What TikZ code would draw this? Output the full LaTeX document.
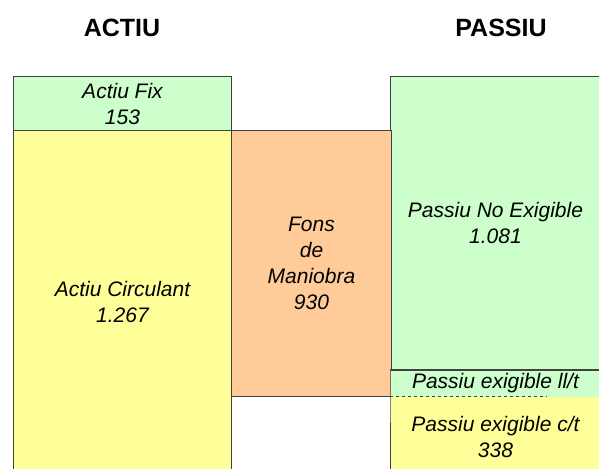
\documentclass[tikz,border=0pt]{standalone}
\usepackage{fontspec}
\setmainfont{Liberation Sans}
\usetikzlibrary{positioning}
\definecolor{fixgreen}{HTML}{CCFFCC}
\definecolor{circyellow}{HTML}{FFFF99}
\definecolor{fonsorange}{HTML}{FFCC99}
\definecolor{edgegray}{HTML}{404040}
\tikzset{
	block/.style={draw=edgegray, line width=1pt, anchor=north west, align=center, inner sep=0pt, font=\fontsize{21}{26}\selectfont\itshape},
	openblock/.style={block, draw=none},
	title/.style={font=\fontsize{25}{30}\selectfont\bfseries}
}
\begin{document}
\begin{tikzpicture}[x=1pt, y=-1pt]
			\useasboundingbox (0,0) rectangle (599,468);
			\clip (0,0) rectangle (599,468);
			\node[title] (actiu) at (122,28) {ACTIU};
			\node[title] (passiu) at (501,28) {PASSIU};
			\node[block, fill=fixgreen, minimum width=218pt, minimum height=54pt] (fix) at (13,76) {Actiu Fix\\153};
			\node[block, fill=circyellow, minimum width=218pt, minimum height=342pt] (circ) at (13,130) {Actiu Circulant\\1.267};
			\node[block, fill=fixgreen, minimum width=210pt, minimum height=293pt] (noexig) at (390,76) {Passiu No Exigible\\1.081};
			\node[block, fill=fonsorange, minimum width=160pt, minimum height=266pt] (fons) at (231,130) {Fons\\de\\Maniobra\\930};
			\node[openblock, fill=fixgreen, minimum width=210pt, minimum height=27pt] (llt) at (390,369) {Passiu exigible ll/t};
			\node[openblock, fill=circyellow, minimum width=210pt, minimum height=80pt] (ct) at (390,396) {Passiu exigible c/t\\338};
			\draw[edgegray, line width=1pt] (noexig.south west) -- (llt.north west) -- (ct.south west);
			\draw[edgegray, line width=1pt] (noexig.south west) -- (noexig.south east);
			\draw[edgegray, line width=1pt, dashed] (ct.north west) -- ++(157,0);
\end{tikzpicture}
\end{document}
